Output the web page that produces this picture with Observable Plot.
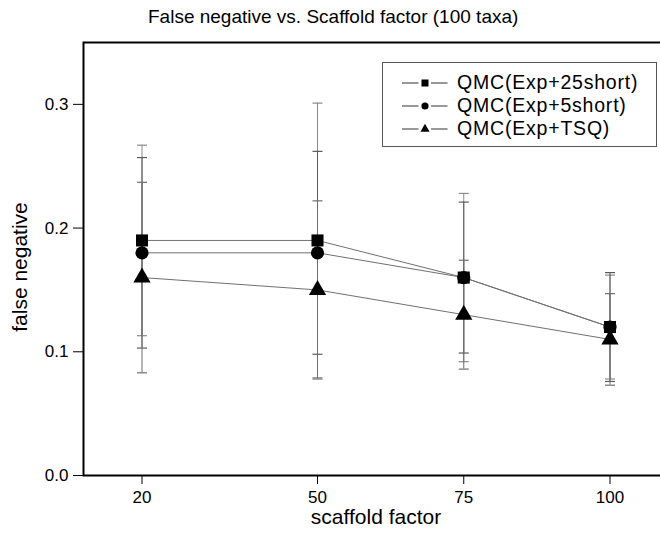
<!DOCTYPE html>
<html>
<head>
<meta charset="utf-8">
<script src="https://cdn.jsdelivr.net/npm/d3@7"></script>
<script src="https://cdn.jsdelivr.net/npm/@observablehq/plot@0.6"></script>
<style>
  html, body { margin: 0; padding: 0; background: #fff; overflow: hidden; }
  #wrap { position: relative; width: 660px; height: 533px; overflow: hidden; font-family: "Liberation Sans", Arial, sans-serif; }
  #title { box-sizing: border-box; height: 36px; padding-top: 7px; padding-left: 148px; font-size: 19px; line-height: 19px; color: #000; white-space: nowrap; }
  #chart svg { max-width: none !important; display: block; }
  #legend { position: absolute; left: 382px; top: 62px; width: 275px; height: 85px; box-sizing: border-box; border: 1px solid #555; padding-top: 8px; padding-left: 19px; background: #fff; }
  .row { display: flex; align-items: center; height: 23px; }
  .row span { font-size: 19.5px; letter-spacing: 0.8px; color: #000; white-space: nowrap; }
</style>
</head>
<body>
<div id="wrap">
  <div id="title"></div>
  <div id="chart"></div>
  <div id="legend"></div>
</div>
<script>
// ---- data ----
const titleText = "False negative vs. Scaffold factor (100 taxa)";
const xLabel = "scaffold factor";
const yLabel = "false negative";
const scaffold = [20, 50, 75, 100];
const seriesNames = ["QMC(Exp+25short)", "QMC(Exp+5short)", "QMC(Exp+TSQ)"];
const seriesSymbols = ["square", "circle", "triangle"];
const fn25short = [0.19, 0.19, 0.16, 0.12];
const fn5short  = [0.18, 0.18, 0.16, 0.12];
const fnTSQ     = [0.16, 0.15, 0.13, 0.11];
const err25short = [0.077, 0.111, 0.068, 0.042];
const err5short  = [0.077, 0.082, 0.061, 0.044];
const errTSQ     = [0.077, 0.072, 0.044, 0.037];
const yTicks = [0, 0.1, 0.2, 0.3];
const xTicks = [20, 50, 75, 100];

// ---- build ----
const seriesValues = [fn25short, fn5short, fnTSQ];
const seriesErrors = [err25short, err5short, errTSQ];
const markerR = [6.8, 6.6, 6.4];
const errColors = ["#8a8a8a", "#5a5a5a", "#6e6e6e"];

const rows = seriesNames.flatMap((name, i) =>
  scaffold.map((x, j) => ({series: name, idx: i, x, y: seriesValues[i][j], err: seriesErrors[i][j]}))
);
const caps = rows.flatMap(d => [{...d, cy: d.y - d.err}, {...d, cy: d.y + d.err}]);

const capSymbol = { draw(ctx) { ctx.moveTo(-5, 0); ctx.lineTo(5, 0); } };

document.getElementById("title").textContent = titleText;

const marks = [
  Plot.line(rows, {x: "x", y: "y", z: "series", stroke: "#707070", strokeWidth: 1}),
];
seriesNames.forEach((name, i) => {
  const r = rows.filter(d => d.idx === i);
  const c = caps.filter(d => d.idx === i);
  marks.push(Plot.ruleX(r, {x: "x", y1: d => d.y - d.err, y2: d => d.y + d.err, stroke: errColors[i], strokeWidth: 1}));
  marks.push(Plot.dot(c, {x: "x", y: "cy", symbol: capSymbol, r: 5, stroke: errColors[i], strokeWidth: 1.2, fill: "none"}));
});
seriesNames.forEach((name, i) => {
  const r = rows.filter(d => d.idx === i);
  marks.push(Plot.dot(r, {x: "x", y: "y", symbol: seriesSymbols[i], r: markerR[i], fill: "black", stroke: "none"}));
});
marks.push(Plot.frame({stroke: "black", strokeWidth: 2}));
marks.push(Plot.text([xLabel], {frameAnchor: "bottom", text: d => d, dy: 42, fontSize: 21, textAnchor: "middle", lineAnchor: "middle", fill: "black"}));
marks.push(Plot.text([yLabel], {frameAnchor: "left", text: d => d, dx: -63, dy: 8, rotate: -90, fontSize: 21, textAnchor: "middle", lineAnchor: "middle", fill: "black"}));

const chart = Plot.plot({
  width: 680,
  height: 497,
  marginTop: 6,
  marginBottom: 58,
  marginLeft: 83,
  marginRight: 12,
  style: {fontFamily: "Liberation Sans, Arial, sans-serif", fontSize: "17px", color: "black", background: "white", maxWidth: "none"},
  x: {type: "linear", domain: [10, 110], ticks: xTicks, tickSize: 9, tickPadding: 6, label: null, tickFormat: d => String(d)},
  y: {domain: [0, 0.35], ticks: yTicks, tickSize: 10, tickPadding: 5, label: null, tickFormat: d3.format(".1f")},
  marks
});
document.getElementById("chart").appendChild(chart);

// ---- legend ----
const legend = d3.select("#legend");
seriesNames.forEach((name, i) => {
  const row = legend.append("div").attr("class", "row");
  const svg = row.append("svg").attr("width", 55).attr("height", 20);
  svg.append("line").attr("x1", 0).attr("x2", 16.5).attr("y1", 10).attr("y2", 10).attr("stroke", "#333").attr("stroke-width", 1);
  svg.append("line").attr("x1", 29).attr("x2", 45.5).attr("y1", 10).attr("y2", 10).attr("stroke", "#333").attr("stroke-width", 1);
  const sym = {square: d3.symbolSquare, circle: d3.symbolCircle, triangle: d3.symbolTriangle}[seriesSymbols[i]];
  const size = [49, 40, 36][i];
  svg.append("path").attr("d", d3.symbol(sym, size)()).attr("transform", "translate(23,10)").attr("fill", "black");
  row.append("span").text(name);
});
</script>
</body>
</html>
